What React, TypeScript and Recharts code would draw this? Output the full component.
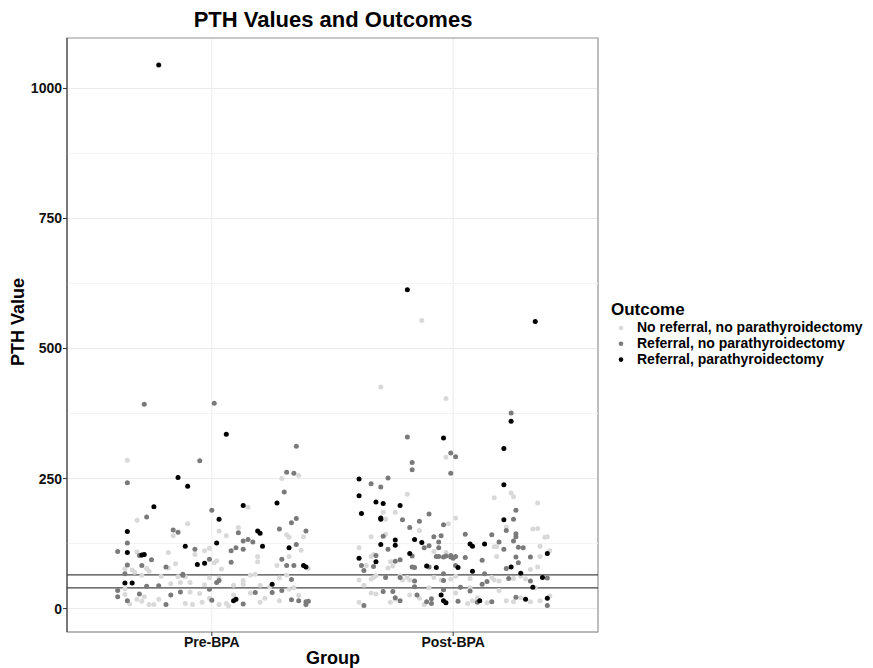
import {
  ScatterChart,
  Scatter,
  XAxis,
  YAxis,
  CartesianGrid,
  ReferenceLine,
  ReferenceArea,
} from "recharts";

const FONT = '"Liberation Sans", Arial, Helvetica, sans-serif';

const groups = ["Pre-BPA", "Post-BPA"];
const outcomes = [
  "No referral, no parathyroidectomy",
  "Referral, no parathyroidectomy",
  "Referral, parathyroidectomy",
];
const colors = ["#d9d9d9", "#7a7a7a", "#000000"];
const yTicks = [0, 250, 500, 750, 1000];
const minorTicks = [125, 375, 625, 875];
const refLimits = [40, 65];

// [jitter offset from group centre, PTH value]
const preNone = [
  [-0.35, 285], [0.29, 250], [0.36, 256], [0.15, 195], [-0.31, 170], [-0.1, 163],
  [-0.16, 140], [0.03, 149], [0.06, 140], [0.11, 156], [0.31, 142], [0.32, 137],
  [0.38, 138], [-0.31, 109], [-0.29, 102], [-0.07, 104], [-0.18, 108], [-0.03, 111],
  [-0.01, 116], [0.02, 92], [0.01, 88], [0.19, 100], [0.19, 90], [0.37, 112],
  [0.32, 100], [0.27, 83], [0.4, 77], [-0.36, 76], [-0.33, 74], [-0.32, 70],
  [-0.27, 77], [-0.26, 72], [-0.18, 78], [-0.15, 86], [-0.29, 64], [-0.21, 62],
  [-0.14, 61], [-0.11, 61], [-0.01, 59], [0.03, 59], [0.04, 76], [0.16, 64],
  [0.18, 66], [0.13, 54], [0.28, 59], [0.31, 64], [-0.17, 48], [-0.13, 50],
  [-0.09, 50], [-0.03, 46], [0.09, 45], [0.13, 47], [0.2, 45], [0.24, 42],
  [0.32, 37], [-0.36, 38], [-0.36, 27], [-0.28, 23], [-0.31, 18], [-0.29, 14],
  [-0.34, 9], [-0.26, 8], [-0.24, 8], [-0.09, 32], [-0.05, 29], [-0.08, 8],
  [-0.04, 12], [0.03, 8], [0.06, 10], [0.09, 26], [0.2, 12], [0.36, 25],
  [-0.01, 20], [0.16, 30], [0.22, 20], [0.28, 15], [0.34, 40], [0.07, 5],
  [-0.22, 18], [-0.11, 10],
];
const preReferral = [
  [-0.28, 393], [0.01, 395], [0.35, 312], [-0.05, 284], [-0.35, 242], [0.31, 262],
  [0.34, 260], [0.3, 224], [0.0, 189], [-0.27, 176], [0.35, 173], [0.33, 165],
  [-0.16, 151], [-0.14, 147], [0.11, 146], [0.13, 130], [0.15, 133], [0.17, 128],
  [0.28, 153], [0.39, 149], [-0.35, 126], [-0.39, 110], [-0.3, 102], [-0.25, 94],
  [-0.07, 114], [-0.01, 95], [0.08, 111], [0.1, 117], [0.13, 114], [0.08, 89],
  [0.35, 123], [0.29, 95], [0.31, 83], [0.34, 83], [-0.35, 84], [-0.29, 83],
  [-0.19, 80], [-0.36, 67], [-0.12, 66], [-0.12, 64], [0.33, 56], [-0.27, 43],
  [-0.22, 44], [-0.01, 37], [0.02, 50], [0.03, 54], [0.29, 35], [-0.39, 35],
  [-0.39, 23], [-0.3, 28], [-0.35, 15], [-0.17, 26], [-0.19, 8], [-0.13, 32],
  [0.0, 16], [0.13, 9], [0.18, 31], [0.25, 31], [0.33, 17], [0.36, 15],
  [0.39, 13], [0.39, 8], [0.4, 14],
];
const preSurgery = [
  [-0.22, 1045], [0.06, 335], [-0.14, 252], [-0.1, 235], [-0.24, 196], [0.13, 198],
  [0.27, 203], [0.03, 172], [-0.35, 148], [0.19, 149], [0.2, 145], [-0.11, 120],
  [0.02, 126], [-0.35, 108], [-0.28, 104], [-0.29, 103], [-0.06, 85], [-0.03, 87],
  [0.21, 120], [0.32, 117], [0.38, 83], [0.39, 80], [-0.36, 49], [-0.33, 49],
  [0.25, 47], [0.1, 18], [0.09, 15],
];

const postNone = [
  [-0.13, 554], [-0.3, 426], [-0.03, 404], [-0.03, 291], [-0.19, 220], [0.17, 213],
  [0.24, 222], [0.25, 215], [0.35, 203], [-0.29, 185], [-0.24, 185], [-0.28, 172],
  [0.01, 174], [-0.02, 163], [-0.14, 150], [0.22, 157], [0.33, 153], [0.35, 154],
  [-0.34, 138], [-0.28, 143], [0.38, 137], [0.39, 138], [0.17, 119], [0.18, 119],
  [-0.39, 117], [0.36, 120], [-0.08, 110], [-0.03, 108], [0.4, 111], [-0.34, 100],
  [-0.33, 104], [-0.26, 90], [-0.25, 82], [-0.27, 78], [0.18, 100], [0.36, 100],
  [-0.36, 83], [0.35, 80], [0.32, 75], [-0.39, 55], [-0.34, 57], [-0.33, 60],
  [-0.32, 63], [-0.21, 55], [-0.19, 60], [-0.18, 55], [-0.22, 63], [-0.08, 60],
  [-0.05, 55], [-0.01, 57], [0.01, 62], [0.07, 58], [0.16, 60], [0.17, 55],
  [0.19, 53], [0.25, 58], [0.28, 62], [0.3, 57], [-0.34, 30], [-0.32, 28],
  [-0.39, 12], [-0.14, 20], [-0.18, 26], [-0.12, 8], [0.06, 10], [0.08, 15],
  [0.1, 21], [0.14, 11], [0.22, 15], [0.25, 13], [0.28, 21], [0.32, 13],
  [0.36, 15], [0.4, 24], [-0.26, 12], [-0.24, 18], [-0.37, 45], [-0.1, 40],
  [0.07, 40], [0.19, 35], [0.34, 40], [0.01, 30],
];
const postReferral = [
  [0.24, 376], [-0.19, 330], [-0.01, 299], [0.01, 292], [-0.17, 281], [-0.17, 267],
  [-0.01, 260], [-0.27, 251], [-0.34, 240], [-0.3, 234], [0.26, 189], [-0.1, 182],
  [-0.21, 171], [-0.14, 168], [0.25, 172], [-0.04, 161], [-0.18, 156], [0.22, 150],
  [-0.29, 139], [-0.08, 138], [-0.05, 140], [0.05, 143], [0.16, 142], [0.26, 144],
  [0.26, 138], [-0.06, 128], [0.25, 130], [0.19, 128], [0.27, 118], [0.29, 117],
  [-0.27, 114], [-0.12, 117], [-0.1, 121], [-0.06, 117], [0.21, 114], [0.05, 98],
  [-0.17, 101], [-0.07, 100], [-0.06, 100], [-0.04, 99], [-0.03, 101], [-0.01, 99],
  [-0.01, 102], [0.0, 97], [0.01, 100], [-0.24, 91], [-0.22, 94], [-0.32, 102],
  [-0.38, 83], [-0.37, 73], [-0.33, 81], [-0.17, 80], [-0.16, 79], [-0.1, 80],
  [0.01, 83], [0.12, 93], [0.26, 99], [0.27, 88], [0.32, 99], [0.22, 77],
  [0.13, 67], [0.39, 59], [0.32, 53], [-0.28, 60], [-0.22, 60], [-0.16, 53],
  [-0.16, 42], [-0.04, 67], [-0.04, 54], [0.03, 41], [0.12, 47], [0.14, 52],
  [0.23, 58], [-0.29, 33], [-0.25, 33], [-0.15, 26], [-0.04, 36], [0.07, 34],
  [-0.24, 21], [-0.22, 15], [0.02, 14], [-0.11, 13], [-0.09, 10], [-0.09, 19],
  [-0.37, 6], [0.1, 12], [0.16, 13], [0.39, 6], [0.26, 22],
];
const postSurgery = [
  [-0.19, 613], [0.34, 552], [0.24, 360], [-0.04, 328], [0.21, 308], [-0.39, 249],
  [0.21, 238], [-0.39, 217], [-0.32, 205], [-0.29, 202], [-0.22, 198], [-0.38, 183],
  [-0.3, 174], [-0.3, 172], [0.21, 171], [-0.24, 132], [-0.16, 133], [-0.13, 127],
  [0.07, 124], [0.08, 120], [0.13, 124], [-0.3, 123], [-0.24, 122], [-0.18, 106],
  [-0.39, 97], [-0.32, 90], [0.39, 106], [-0.11, 82], [-0.07, 79], [0.02, 79],
  [0.24, 80], [0.08, 72], [0.28, 68], [0.37, 60], [0.33, 41], [-0.05, 26],
  [-0.04, 15], [-0.03, 11], [0.11, 15], [0.3, 18], [0.39, 20],
];

const toPoints = (rows: number[][], g: number) =>
  rows.map(([dx, y]) => ({ x: g + 1 + dx, y }));

const series = [
  { name: outcomes[0], color: colors[0], data: [...toPoints(preNone, 0), ...toPoints(postNone, 1)] },
  { name: outcomes[1], color: colors[1], data: [...toPoints(preReferral, 0), ...toPoints(postReferral, 1)] },
  { name: outcomes[2], color: colors[2], data: [...toPoints(preSurgery, 0), ...toPoints(postSurgery, 1)] },
];

const dot = (color: string) => (props: any) =>
  <circle cx={props.cx} cy={props.cy} r={2.5} fill={color} />;

const tickStyle = { fontFamily: FONT, fontSize: 14, fontWeight: 700, fill: "#111" };

export default function App() {
  return (
    <div style={{ position: "absolute", left: 0, top: 0, width: 873, height: 668, background: "#fff" }}>
      <ScatterChart
        width={873}
        height={668}
        margin={{ top: 38, right: 275, bottom: 6, left: 0 }}
      >
        <CartesianGrid stroke="#ebebeb" />
        {minorTicks.map((t) => (
          <ReferenceLine key={t} y={t} stroke="#f3f3f3" />
        ))}
        <XAxis
          type="number"
          dataKey="x"
          domain={[0.4, 2.6]}
          ticks={[1, 2]}
          allowDataOverflow
          tickFormatter={(v) => groups[v - 1]}
          height={30}
          tickSize={4}
          tickMargin={1}
          tick={tickStyle}
          axisLine={{ stroke: "#aaa" }}
          tickLine={{ stroke: "#333" }}
        />
        <YAxis
          type="number"
          dataKey="y"
          domain={[-45, 1097]}
          ticks={yTicks}
          allowDataOverflow
          width={67}
          tickSize={4}
          tickMargin={1}
          tick={tickStyle}
          axisLine={{ stroke: "#333" }}
          tickLine={{ stroke: "#333" }}
        />
        {series.map((s) => (
          <Scatter
            key={s.name}
            name={s.name}
            data={s.data}
            fill={s.color}
            shape={dot(s.color)}
            isAnimationActive={false}
          />
        ))}
        {refLimits.map((v) => (
          <ReferenceLine key={v} y={v} stroke="#444" strokeWidth={1.2} />
        ))}
        <ReferenceArea x1={0.4} x2={2.6} y1={-45} y2={1097} fill="none" stroke="#999" strokeWidth={1.2} />
      </ScatterChart>
      <svg
        width={873}
        height={668}
        style={{ position: "absolute", left: 0, top: 0, pointerEvents: "none" }}
        fontFamily={FONT}
        fontWeight={700}
      >
        <text x={333} y={27} fontSize={22} textAnchor="middle" fill="#000">
          PTH Values and Outcomes
        </text>
        <text x={333} y={664} fontSize={18} textAnchor="middle" fill="#000">
          Group
        </text>
        <text x={24} y={322} fontSize={18} textAnchor="middle" fill="#000" transform="rotate(-90 24 322)">
          PTH Value
        </text>
        <text x={611} y={315} fontSize={17} fill="#000">
          Outcome
        </text>
        {outcomes.map((o, i) => (
          <g key={o}>
            <circle cx={621} cy={328 + i * 15.8} r={2.3} fill={colors[i]} />
            <text x={637} y={332 + i * 15.8} fontSize={14} fill="#000">
              {o}
            </text>
          </g>
        ))}
      </svg>
    </div>
  );
}
